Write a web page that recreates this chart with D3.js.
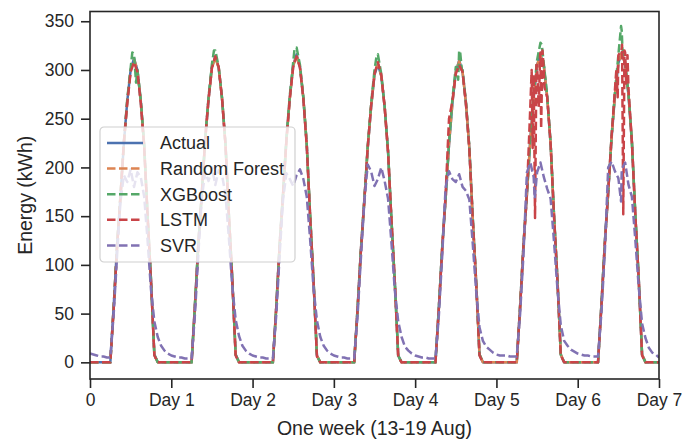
<!DOCTYPE html>
<html>
<head>
<meta charset="utf-8">
<script src="https://cdn.jsdelivr.net/npm/d3@7"></script>
<style>
  body { margin: 0; background: #fff; }
  svg { font-family: "Liberation Sans", Arial, sans-serif; }
</style>
</head>
<body>
<svg id="chart" width="685" height="441"></svg>
<script>
// hourly values, one row per day (13-19 Aug), last value = hour 168
var actual = [
  0,0,0,0,0,0,0,58,120,170,225,268,300,312,300,268,222,150,85,8,0,0,0,0,
  0,0,0,0,0,0,0,60,122,172,228,270,303,314,302,270,224,152,86,8,0,0,0,0,
  0,0,0,0,0,0,0,57,121,173,229,272,305,316,303,271,223,150,84,7,0,0,0,0,
  0,0,0,0,0,0,0,55,116,166,220,262,295,306,294,262,216,146,82,7,0,0,0,0,
  0,0,0,0,0,0,0,56,118,168,223,266,298,310,298,266,220,148,84,8,0,0,0,0,
  0,0,0,0,0,0,0,58,121,172,228,272,305,316,304,272,224,151,86,8,0,0,0,0,
  0,0,0,0,0,0,0,59,122,174,230,274,307,318,306,274,226,152,87,8,0,0,0,0,
  0];

var randomForest = [
  0,0,0,0,0,0,0,57,119,171,224,268,300,311,300,267,222,150,85,8,0,0,0,0,
  0,0,0,0,0,0,0,59,121,172,227,270,302,313,302,270,224,151,86,8,0,0,0,0,
  0,0,0,0,0,0,0,57,120,172,228,271,304,315,303,271,223,150,84,7,0,0,0,0,
  0,0,0,0,0,0,0,55,116,166,220,262,296,306,294,262,216,146,82,7,0,0,0,0,
  0,0,0,0,0,0,0,56,118,168,224,266,298,309,298,266,220,148,84,8,0,0,0,0,
  0,0,0,0,0,0,0,58,121,172,228,271,305,315,304,272,224,151,86,8,0,0,0,0,
  0,0,0,0,0,0,0,59,122,174,230,274,307,318,306,274,226,152,87,8,0,0,0,0,
  0];

var xgboost = [
  0,0,0,0,0,0,0,57,121,171,226,270,302,316,300,269,223,151,85,8,0,0,0,0,
  0,0,0,0,0,0,0,60,123,173,229,272,306,320,303,271,225,152,86,8,0,0,0,0,
  0,0,0,0,0,0,0,57,122,174,230,274,308,323,305,272,224,151,84,7,0,0,0,0,
  0,0,0,0,0,0,0,55,117,167,222,265,300,316,296,263,217,147,82,7,0,0,0,0,
  0,0,0,0,0,0,0,56,119,169,225,270,303,320,300,267,221,149,84,8,0,0,0,0,
  0,0,0,0,0,0,0,58,122,173,230,276,310,328,306,273,225,152,86,8,0,0,0,0,
  0,0,0,0,0,0,0,59,123,175,232,278,315,340,308,275,227,153,87,8,0,0,0,0,
  0];
// sub-hourly readings [hour, value]
var xgboostExtra = [[12.5, 318], [13.6, 287], [36.6, 320], [60.4, 322], [84.6, 314],
  [108.7, 290], [109.3, 318], [109.8, 300], [133.4, 326], [156.8, 345], [157.2, 322]];

var lstm = [
  0,0,0,0,0,0,0,55,118,170,226,266,298,308,298,266,220,150,84,7,0,0,0,0,
  0,0,0,0,0,0,0,58,121,172,229,270,302,314,303,270,223,151,85,7,0,0,0,0,
  0,0,0,0,0,0,0,56,120,172,228,271,303,314,302,270,222,149,83,6,0,0,0,0,
  0,0,0,0,0,0,0,54,115,166,221,263,296,308,295,262,216,146,82,6,0,0,0,0,
  0,0,0,0,0,0,0,55,117,172,250,268,296,305,298,265,219,147,83,7,0,0,0,0,
  0,0,0,0,0,0,0,57,120,173,262,290,305,318,300,272,224,150,85,7,0,0,0,0,
  0,0,0,0,0,0,0,58,121,175,232,280,315,322,318,280,226,152,86,7,0,0,0,0,
  0];
var lstmExtra = [[130.4, 300], [130.7, 220], [131.0, 295], [131.4, 148], [131.8, 305],
  [132.5, 262], [132.9, 316], [133.2, 240], [133.6, 320], [134.2, 282],
  [155.4, 300], [155.8, 272], [156.5, 318], [157.1, 326], [157.45, 152], [157.8, 320],
  [158.3, 286], [158.7, 315]];

var svr = [
  9,8,7,6,6,5,5,50,110,165,192,185,198,180,195,190,170,125,75,42,26,17,12,9,
  7,6,5,5,4,4,4,50,112,168,195,186,200,182,197,192,172,128,78,44,27,17,12,9,
  7,6,5,5,4,4,4,49,111,167,194,188,181,192,198,188,170,126,76,43,26,17,12,9,
  7,6,5,5,4,4,4,48,108,165,203,196,181,188,200,186,168,123,74,42,26,16,12,9,
  7,6,5,5,4,4,4,48,110,180,196,188,185,193,180,176,167,122,74,36,22,16,13,10,
  8,7,7,7,6,6,6,50,112,195,205,190,195,205,190,178,168,124,76,38,22,17,13,11,
  9,8,7,7,6,6,6,51,113,200,206,196,189,198,205,182,170,126,78,40,25,15,10,8,
  5];
var svrExtra = [[131.3, 168], [156.8, 165]];

var seriesNames = ["Actual", "Random Forest", "XGBoost", "LSTM", "SVR"];
var seriesColors = ["#4c72b0", "#dd8452", "#55a868", "#c94448", "#8172b3"];
var seriesDashed = [false, true, true, true, true];

var xTickValues = [0, 24, 48, 72, 96, 120, 144, 168];
var xTickLabels = ["0", "Day 1", "Day 2", "Day 3", "Day 4", "Day 5", "Day 6", "Day 7"];
var yTickValues = [0, 50, 100, 150, 200, 250, 300, 350];

// merge hourly values with the extra sub-hourly readings
function toPoints(values, extra) {
    var pts = values.map(function(v, i) { return [i, v]; });
    if (extra) pts = pts.concat(extra);
    pts.sort(function(a, b) { return a[0] - b[0]; });
    return pts;
}

var allSeries = [
    toPoints(actual),
    toPoints(randomForest),
    toPoints(xgboost, xgboostExtra),
    toPoints(lstm, lstmExtra),
    toPoints(svr, svrExtra)
];

var margin = {top: 11.5, right: 26, bottom: 62, left: 90};
var width = 685 - margin.left - margin.right,
    height = 441 - margin.top - margin.bottom;

var svg = d3.select("#chart");
var g = svg.append("g")
    .attr("transform", "translate(" + margin.left + "," + margin.top + ")");

var x = d3.scaleLinear().domain([0, 168]).range([0, width]);
var y = d3.scaleLinear().domain([-17.1, 360]).range([height, 0]);

g.append("clipPath").attr("id", "clip")
    .append("rect").attr("width", width).attr("height", height);

var line = d3.line()
    .x(function(d) { return x(d[0]); })
    .y(function(d) { return y(d[1]); });

var plot = g.append("g").attr("clip-path", "url(#clip)");
allSeries.forEach(function(pts, i) {
    plot.append("path")
        .datum(pts)
        .attr("d", line)
        .attr("fill", "none")
        .attr("stroke", seriesColors[i])
        .attr("stroke-width", 2.5)
        .attr("stroke-linejoin", "round")
        .attr("stroke-dasharray", seriesDashed[i] ? "8.5,3.5" : null);
});

// axes
var xAxis = g.append("g")
    .attr("transform", "translate(0," + height + ")")
    .call(d3.axisBottom(x).tickValues(xTickValues)
          .tickFormat(function(d, i) { return xTickLabels[i]; })
          .tickSize(9).tickPadding(6));
var yAxis = g.append("g")
    .call(d3.axisLeft(y).tickValues(yTickValues).tickSize(9).tickPadding(7));

[xAxis, yAxis].forEach(function(a) {
    a.select(".domain").remove();
    a.selectAll("line").attr("stroke", "#262626").attr("stroke-width", 1.6);
    a.selectAll("text").attr("fill", "#262626").style("font-size", "17.5px")
        .style("font-family", "'Liberation Sans', Arial, sans-serif");
});

// frame
g.append("rect")
    .attr("width", width).attr("height", height)
    .attr("fill", "none").attr("stroke", "#262626").attr("stroke-width", 1.6);

g.append("text")
    .attr("x", width / 2).attr("y", height + 56)
    .attr("text-anchor", "middle")
    .attr("fill", "#262626")
    .style("font-size", "19.5px")
    .text("One week (13-19 Aug)");

g.append("text")
    .attr("transform", "translate(" + (-58) + "," + (height / 2) + ") rotate(-90)")
    .attr("text-anchor", "middle")
    .attr("fill", "#262626")
    .style("font-size", "19.5px")
    .text("Energy (kWh)");

// legend
var legend = g.append("g").attr("transform", "translate(10,115.5)");
legend.append("rect")
    .attr("width", 195).attr("height", 135).attr("rx", 4)
    .attr("fill", "#fff").attr("fill-opacity", 0.8)
    .attr("stroke", "#d0d0d0").attr("stroke-width", 1.2);
seriesNames.forEach(function(name, i) {
    var row = legend.append("g").attr("transform", "translate(0," + (16 + i * 25.6) + ")");
    row.append("line")
        .attr("x1", 7).attr("x2", 43)
        .attr("stroke", seriesColors[i]).attr("stroke-width", 2.5)
        .attr("stroke-dasharray", seriesDashed[i] ? "8.5,3.5" : null);
    row.append("text")
        .attr("x", 60).attr("dy", "0.36em")
        .attr("fill", "#262626")
        .style("font-size", "18px")
        .text(name);
});
</script>
</body>
</html>
